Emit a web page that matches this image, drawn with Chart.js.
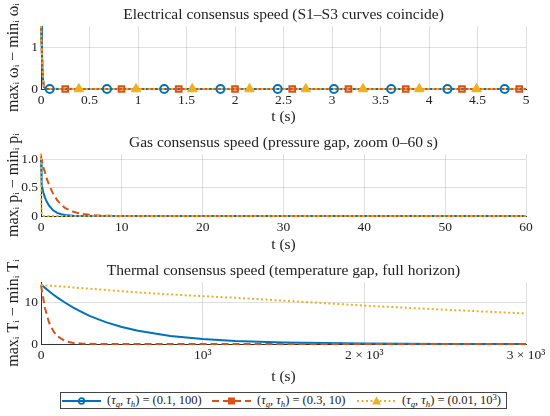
<!DOCTYPE html>
<html lang="en">
<head>
<meta charset="UTF-8">
<title>Consensus speed</title>
<script src="https://cdn.jsdelivr.net/npm/chart.js"></script>
<style>
  body { margin: 0; background: #fff; }
  #page { position: relative; width: 550px; height: 416px; overflow: hidden; font-family: "Liberation Serif", serif; }
  .panel { position: absolute; left: 0; width: 550px; }
  .legend {
    position: absolute; left: 60px; top: 392px; width: 447px; height: 17px;
    border: 1px solid #444; background: #fff;
    font-size: 12.5px; color: #222; white-space: nowrap; box-sizing: border-box;
  }
  .item { position: absolute; top: 0; height: 15px; display: flex; align-items: center; }
  .item svg { margin-right: 6px; }
  sub { font-size: 0.7em; vertical-align: -0.3em; line-height: 0; }
  sup { font-size: 0.7em; vertical-align: 0.45em; line-height: 0; }
</style>
</head>
<body>
<div id="page">
  <div class="panel" style="top:0;height:128px"><canvas id="elecChart"></canvas></div>
  <div class="panel" style="top:128px;height:128px"><canvas id="gasChart"></canvas></div>
  <div class="panel" style="top:256px;height:132px"><canvas id="thermChart"></canvas></div>

  <div class="legend">
    <div class="item" style="left:1px">
      <svg width="39" height="10"><line x1="0" y1="5" x2="39" y2="5" stroke="#0072BD" stroke-width="2"/><circle cx="19.5" cy="5" r="2.8" fill="none" stroke="#0072BD" stroke-width="1.8"/></svg>
      <span>(<i>τ</i><sub><i>g</i></sub>, <i>τ</i><sub><i>h</i></sub>) = (0.1, 100)</span>
    </div>
    <div class="item" style="left:151px">
      <svg width="39" height="10"><line x1="0" y1="5" x2="39" y2="5" stroke="#D95319" stroke-width="2" stroke-dasharray="7 4"/><rect x="16" y="1.5" width="7" height="7" fill="#D95319"/></svg>
      <span>(<i>τ</i><sub><i>g</i></sub>, <i>τ</i><sub><i>h</i></sub>) = (0.3, 10)</span>
    </div>
    <div class="item" style="left:296px">
      <svg width="39" height="10"><line x1="0" y1="5" x2="39" y2="5" stroke="#EDB120" stroke-width="2" stroke-dasharray="2 2.5"/><polygon points="19.5,0.5 24,8.5 15,8.5" fill="#EDB120"/></svg>
      <span>(<i>τ</i><sub><i>g</i></sub>, <i>τ</i><sub><i>h</i></sub>) = (0.01, 10<sup>3</sup>)</span>
    </div>
  </div>
</div>

<script>
// electrical frequency gap, all three cases on top of each other
const elecT  = [0, 0.01, 0.02, 0.03, 0.05, 5];
const elecS1 = [1.5, 0.8, 0.25, 0.05, 0, 0];
const elecS2 = [1.5, 0.8, 0.25, 0.05, 0, 0];
const elecS3 = [1.5, 0.8, 0.25, 0.05, 0, 0];
const circleT   = [0.09, 0.68, 1.27, 1.85, 2.44, 3.02, 3.61, 4.19, 4.78];
const squareT   = [0.25, 0.83, 1.42, 2.0, 2.59, 3.17, 3.76, 4.34, 4.93];
const triangleT = [0.39, 0.98, 1.56, 2.15, 2.73, 3.32, 3.9, 4.49];
const markerGap = 0;

// gas pressure gap (first 60 s)
const gasT  = [0, 0.05, 0.1, 0.2, 0.3, 0.5, 0.75, 1, 1.5, 2, 2.5, 3, 4, 5, 6, 7, 8, 10, 60];
const gasS1 = [1.0, 0.7, 0.55, 0.47, 0.41, 0.32, 0.24, 0.18, 0.1, 0.055, 0.03, 0.016, 0.005, 0, 0, 0, 0, 0, 0];
const gasS2 = [1.05, 1.0, 0.98, 0.92, 0.86, 0.76, 0.64, 0.55, 0.39, 0.28, 0.2, 0.14, 0.074, 0.037, 0.02, 0.01, 0.005, 0, 0];
const gasS3 = [1.1, 0.2, 0.02, 0, 0, 0, 0, 0, 0, 0, 0, 0, 0, 0, 0, 0, 0, 0, 0];

// thermal temperature gap (full horizon)
const thermT  = [0, 25, 50, 75, 100, 150, 200, 250, 300, 400, 500, 600, 800, 1000, 1200, 1500, 2000, 2500, 3000];
const thermS1 = [14.5, 13.6, 12.8, 12.0, 11.3, 10.0, 8.8, 7.8, 6.8, 5.3, 4.1, 3.2, 1.95, 1.2, 0.72, 0.34, 0.1, 0.03, 0.01];
const thermS2 = [14.2, 8.6, 5.2, 3.2, 1.9, 0.7, 0.26, 0.1, 0.04, 0, 0, 0, 0, 0, 0, 0, 0, 0, 0];
const thermS3 = [14.3, 14.2, 14.15, 14.1, 14.0, 13.85, 13.7, 13.55, 13.4, 13.1, 12.8, 12.5, 12.0, 11.6, 11.2, 10.5, 9.3, 8.3, 7.4];

const BLUE = '#0072BD', ORANGE = '#D95319', YELLOW = '#EDB120';
const FONT = '"Liberation Serif", serif';

function pts(xs, ys) {
    return xs.map((x, i) => ({ x: x, y: ys[i] }));
}

function lineSets(xs, s1, s2, s3) {
    return [
        { data: pts(xs, s1), borderColor: BLUE, borderWidth: 2, order: 3, clip: false },
        { data: pts(xs, s2), borderColor: ORANGE, borderWidth: 2, borderDash: [7, 4], order: 2, clip: false },
        { data: pts(xs, s3), borderColor: YELLOW, borderWidth: 2, borderDash: [2, 2.5], order: 1, clip: false }
    ];
}

function makePanel(id, cfg) {
    const plotBottom = cfg.plotBottom;
    new Chart(document.getElementById(id), {
        type: 'line',
        data: { datasets: cfg.datasets },
        options: {
            responsive: true,
            maintainAspectRatio: false,
            animation: false,
            layout: { padding: { left: 0, right: 24, top: 0, bottom: 0 } },
            elements: { point: { radius: 0 }, line: { tension: 0 } },
            plugins: {
                legend: { display: false },
                tooltip: { enabled: false },
                title: {
                    display: true, text: cfg.title, color: '#222', fullSize: false,
                    font: { family: FONT, size: 15.5, weight: 'normal' },
                    padding: { top: 6, bottom: 1.5 }
                }
            },
            scales: {
                x: {
                    type: 'linear', min: 0, max: cfg.xMax,
                    afterBuildTicks: s => { s.ticks = cfg.xTicks.map(v => ({ value: v })); },
                    afterFit: s => { s.height = s.chart.height - plotBottom; },
                    grid: { color: 'rgba(0,0,0,0.12)', drawTicks: false },
                    border: { display: true, color: '#333', width: 1 },
                    ticks: {
                        padding: 3, color: '#222', maxRotation: 0,
                        font: { family: FONT, size: 13.5 },
                        callback: cfg.xFmt || (v => String(v))
                    },
                    title: {
                        display: true, text: 't (s)', color: '#222',
                        font: { family: FONT, size: 15.5 }, padding: { top: 0, bottom: 2 }
                    }
                },
                y: {
                    type: 'linear', min: 0, max: cfg.yMax,
                    afterBuildTicks: s => { s.ticks = cfg.yTicks.map(v => ({ value: v })); },
                    afterFit: s => { s.width = 41; },
                    grid: { color: 'rgba(0,0,0,0.12)', drawTicks: false },
                    border: { display: true, color: '#333', width: 1 },
                    ticks: {
                        padding: 3, color: '#222',
                        font: { family: FONT, size: 13.5 }
                    },
                    title: {
                        display: true, text: cfg.yTitle, color: '#222',
                        font: { family: FONT, size: 16 }, padding: { top: 4, bottom: 0 }
                    }
                }
            }
        }
    });
}

const elecSets = lineSets(elecT, elecS1, elecS2, elecS3).concat([
    { data: circleT.map(t => ({ x: t, y: markerGap })), showLine: false, pointStyle: 'circle', clip: false,
      pointRadius: 4, pointBorderColor: BLUE, pointBackgroundColor: 'rgba(255,255,255,0)', pointBorderWidth: 2, order: 0 },
    { data: squareT.map(t => ({ x: t, y: markerGap })), showLine: false, pointStyle: 'rect', clip: false,
      pointRadius: 4, pointBorderColor: ORANGE, pointBackgroundColor: 'rgba(217,83,25,0.35)', pointBorderWidth: 2, order: 0 },
    { data: triangleT.map(t => ({ x: t, y: markerGap })), showLine: false, pointStyle: 'triangle', clip: false,
      pointRadius: 5.5, pointBorderColor: YELLOW, pointBackgroundColor: YELLOW, pointBorderWidth: 1, order: 0 }
]);

makePanel('elecChart', {
    title: 'Electrical consensus speed (S1–S3 curves coincide)',
    yTitle: 'maxᵢ ωᵢ − minᵢ ωᵢ',
    xMax: 5, xTicks: [0, 0.5, 1, 1.5, 2, 2.5, 3, 3.5, 4, 4.5, 5],
    yMax: 1.5, yTicks: [0, 1],
    plotBottom: 89,
    datasets: elecSets
});

makePanel('gasChart', {
    title: 'Gas consensus speed (pressure gap, zoom 0–60 s)',
    yTitle: 'maxᵢ pᵢ − minᵢ pᵢ',
    xMax: 60, xTicks: [0, 10, 20, 30, 40, 50, 60],
    yMax: 1.09, yTicks: [0, 0.5, 1],
    plotBottom: 88,
    datasets: lineSets(gasT, gasS1, gasS2, gasS3)
});

makePanel('thermChart', {
    title: 'Thermal consensus speed (temperature gap, full horizon)',
    yTitle: 'maxᵢ Tᵢ − minᵢ Tᵢ',
    xMax: 3000, xTicks: [0, 1000, 2000, 3000],
    xFmt: v => v === 0 ? '0' : (v === 1000 ? '10³' : (v / 1000) + ' × 10³'),
    yMax: 15, yTicks: [0, 10],
    plotBottom: 88,
    datasets: lineSets(thermT, thermS1, thermS2, thermS3)
});
</script>
</body>
</html>
